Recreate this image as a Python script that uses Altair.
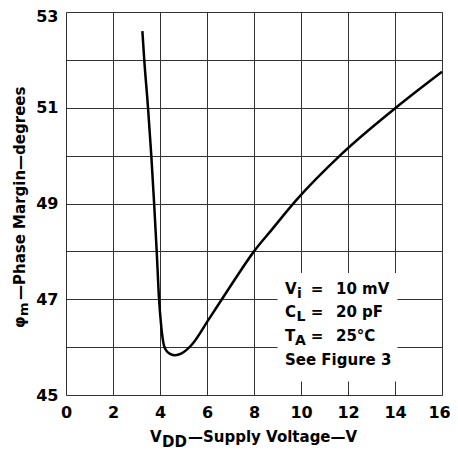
import altair as alt
import pandas as pd

# Curve
vdd = [3.25, 3.33, 3.49, 3.63, 3.75, 3.86, 3.96, 4.04, 4.17, 4.30, 4.43, 4.64, 4.92, 5.35, 6.06, 6.98, 8.0, 8.75, 9.8, 11.7, 14.14, 16.0]
phase = [52.6, 52.0, 51.0, 50.0, 49.0, 48.0, 47.0, 46.5, 46.03, 45.91, 45.86, 45.83, 45.87, 46.05, 46.57, 47.26, 48.0, 48.45, 49.07, 50.02, 51.04, 51.75]

x_ticks = [0, 2, 4, 6, 8, 10, 12, 14, 16]
y_ticks = [45, 46, 47, 48, 49, 50, 51, 52, 53]

# note box extent in data units (white backing)
box_x = [9.0, 14.1]
box_y = [45.28, 47.55]

FONT = "DejaVu Sans"
W, H = 376, 383

df = pd.DataFrame({"vdd": vdd, "phase": phase})

x_enc = alt.X(
    "vdd:Q",
    scale=alt.Scale(domain=[0, 16], nice=False, zero=False),
    axis=alt.Axis(
        values=x_ticks, title=None, grid=True, ticks=False, domain=False,
        labelFont=FONT, labelFontSize=16, labelFontWeight="bold", labelColor="black",
        labelPadding=9, labelFlush=False, labelOverlap=False,
        labelOffset={"expr": "datum.value == 16 ? -3 : 0"},
        gridColor="#333333", gridWidth=1, gridOpacity=1,
    ),
)
y_enc = alt.Y(
    "phase:Q",
    scale=alt.Scale(domain=[45, 53], nice=False, zero=False),
    axis=alt.Axis(
        values=y_ticks, title=None, grid=True, ticks=False, domain=False,
        labelExpr="datum.value % 2 == 1 ? datum.label : ''",
        labelFont=FONT, labelFontSize=16, labelFontWeight="bold", labelColor="black",
        labelPadding=8, labelFlush=False, labelOverlap=False,
        labelOffset={"expr": "datum.value == 53 ? 4 : 0"},
        gridColor="#333333", gridWidth=1, gridOpacity=1,
    ),
)

curve = alt.Chart(df).mark_line(color="black", strokeWidth=2.5, interpolate="monotone").encode(
    x=x_enc, y=y_enc
)

box_df = pd.DataFrame({"x": [box_x[0]], "x2": [box_x[1]], "y": [box_y[0]], "y2": [box_y[1]]})
box = alt.Chart(box_df).mark_rect(color="white").encode(
    x="x:Q", x2="x2:Q", y="y:Q", y2="y2:Q"
)


def txt(s, x, y, size=15, angle=0, align="left"):
    return alt.Chart(pd.DataFrame({"t": [s]})).mark_text(
        font=FONT, fontWeight="bold", fontSize=size, align=align,
        baseline="alphabetic", angle=angle, color="black",
    ).encode(x=alt.value(x), y=alt.value(y), text="t:N")


notes = [
    txt("V", 219, 282), txt("i", 231, 286, 14), txt("=", 251, 282, align="center"), txt("10 mV", 270, 282),
    txt("C", 219, 305), txt("L", 230.5, 309, 14), txt("=", 251, 305, align="center"), txt("20 pF", 270, 305),
    txt("T", 219, 329), txt("A", 229, 333, 14), txt("=", 251, 329, align="center"), txt("25°C", 270, 329),
    txt("See Figure 3", 219, 353),
]

x_title = [
    txt("V", 84, 430), txt("DD", 96, 435), txt("—Supply Voltage—V", 122, 430),
]
y_title = [
    txt("φ", -41, 316, angle=270), txt("m", -38, 304, 13, angle=270),
    txt("—Phase Margin—degrees", -41, 288, angle=270),
]

chart = alt.layer(curve, box, *notes, *x_title, *y_title).properties(
    width=W, height=H,
    autosize=alt.AutoSizeParams(type="none"),
    padding={"left": 58, "top": 4, "right": 8, "bottom": 55},
).configure_view(
    stroke="black", strokeWidth=3
).configure(background="white")

chart.save("out.html", embed_options={"renderer": "svg", "actions": False})
